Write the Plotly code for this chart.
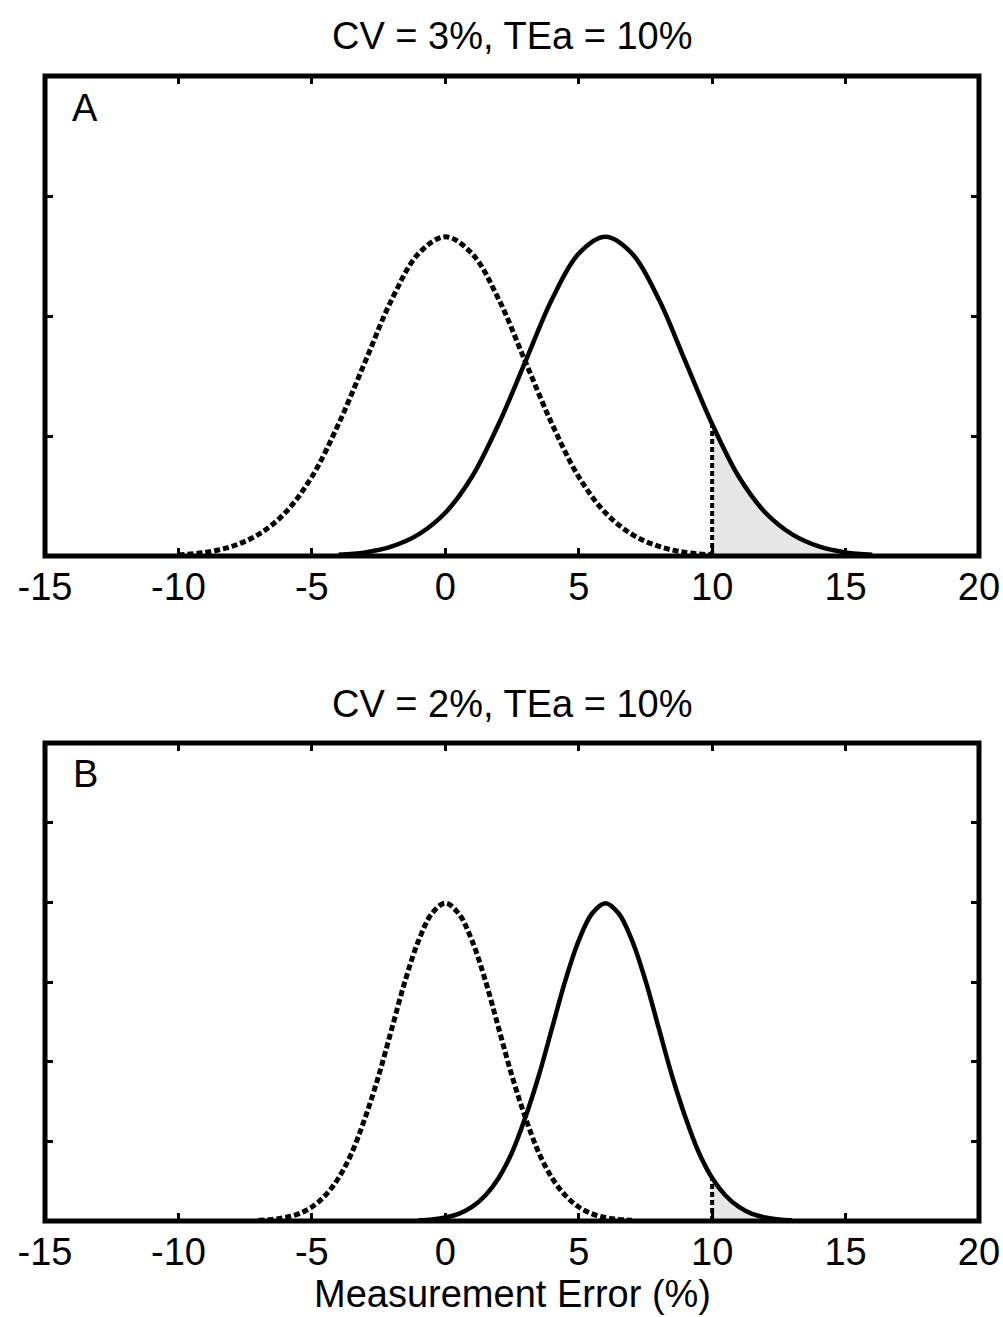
import plotly.graph_objects as go

# ---------------- data ----------------
x_ticks = [-15, -10, -5, 0, 5, 10, 15, 20]
x_tick_labels = ["-15", "-10", "-5", "0", "5", "10", "15", "20"]

# Panel A: CV = 3 %
xa_dashed = [-10, -9, -8, -7, -6, -5, -4, -3, -2, -1, 0, 1, 2, 3, 4, 5, 6, 7, 8, 9, 10]
ya_dashed = [0.0005, 0.0015, 0.004, 0.009, 0.018, 0.033, 0.055, 0.081, 0.107, 0.126, 0.133,
             0.126, 0.107, 0.081, 0.055, 0.033, 0.018, 0.009, 0.004, 0.0015, 0.0005]
xa_solid = [-4, -3, -2, -1, 0, 1, 2, 3, 4, 5, 6, 7, 8, 9, 10, 11, 12, 13, 14, 15, 16]
ya_solid = [0.0005, 0.0015, 0.004, 0.009, 0.018, 0.033, 0.055, 0.081, 0.107, 0.126, 0.133,
            0.126, 0.107, 0.081, 0.055, 0.033, 0.018, 0.009, 0.004, 0.0015, 0.0005]
xa_shade = [10, 11, 12, 13, 14, 15, 16]
ya_shade = [0.055, 0.033, 0.018, 0.009, 0.004, 0.0015, 0.0005]
xa_tea = [10, 10]
ya_tea = [0, 0.055]

# Panel B: CV = 2 %
xb_dashed = [-7, -6.5, -6, -5.5, -5, -4.5, -4, -3.5, -3, -2.5, -2, -1.5, -1, -0.5, 0,
             0.5, 1, 1.5, 2, 2.5, 3, 3.5, 4, 4.5, 5, 5.5, 6, 6.5, 7]
yb_dashed = [0.0004, 0.001, 0.0022, 0.0045, 0.0088, 0.016, 0.027, 0.043, 0.065, 0.091,
             0.121, 0.151, 0.176, 0.193, 0.1995, 0.193, 0.176, 0.151, 0.121, 0.091, 0.065,
             0.043, 0.027, 0.016, 0.0088, 0.0045, 0.0022, 0.001, 0.0004]
xb_solid = [-1, -0.5, 0, 0.5, 1, 1.5, 2, 2.5, 3, 3.5, 4, 4.5, 5, 5.5, 6,
            6.5, 7, 7.5, 8, 8.5, 9, 9.5, 10, 10.5, 11, 11.5, 12, 12.5, 13]
yb_solid = [0.0004, 0.001, 0.0022, 0.0045, 0.0088, 0.016, 0.027, 0.043, 0.065, 0.091,
            0.121, 0.151, 0.176, 0.193, 0.1995, 0.193, 0.176, 0.151, 0.121, 0.091, 0.065,
            0.043, 0.027, 0.016, 0.0088, 0.0045, 0.0022, 0.001, 0.0004]
xb_shade = [10, 10.5, 11, 11.5, 12, 12.5, 13]
yb_shade = [0.027, 0.016, 0.0088, 0.0045, 0.0022, 0.001, 0.0004]
xb_tea = [10, 10]
yb_tea = [0, 0.027]

titles = ["CV = 3%, TEa = 10%", "CV = 2%, TEa = 10%"]
panel_letters = ["A", "B"]
x_label = "Measurement Error (%)"

# ---------------- figure ----------------
W, H = 1003, 1317
FONT = "Arial, 'Liberation Sans', sans-serif"
BLACK = "#000000"
DASH = "6px,3px"

fig = go.Figure()

def add_panel(xax, yax, xd, yd, xs, ys, xsh, ysh, xt, yt):
    fig.add_trace(go.Scatter(x=xsh, y=ysh, xaxis=xax, yaxis=yax, mode="lines",
                             line=dict(width=0, shape="spline"), fill="tozeroy",
                             fillcolor="#e6e6e6", hoverinfo="skip", showlegend=False))
    fig.add_trace(go.Scatter(x=xd, y=yd, xaxis=xax, yaxis=yax, mode="lines",
                             line=dict(color=BLACK, width=5, dash=DASH, shape="spline"),
                             showlegend=False))
    fig.add_trace(go.Scatter(x=xs, y=ys, xaxis=xax, yaxis=yax, mode="lines",
                             line=dict(color=BLACK, width=4.5, shape="spline"),
                             showlegend=False))
    fig.add_trace(go.Scatter(x=xt, y=yt, xaxis=xax, yaxis=yax, mode="lines",
                             line=dict(color=BLACK, width=4, dash="5px,3px"),
                             showlegend=False))

add_panel("x", "y", xa_dashed, ya_dashed, xa_solid, ya_solid, xa_shade, ya_shade, xa_tea, ya_tea)
add_panel("x2", "y2", xb_dashed, yb_dashed, xb_solid, yb_solid, xb_shade, yb_shade, xb_tea, yb_tea)

def py(pix):
    return 1 - pix / H

xaxis_common = dict(range=[-15, 20], tickmode="array", tickvals=x_ticks, ticktext=x_tick_labels,
                    ticks="inside", ticklen=8, tickwidth=3, tickcolor=BLACK, mirror="allticks",
                    showline=False, showgrid=False, zeroline=False,
                    tickfont=dict(family=FONT, size=38, color=BLACK), ticklabelstandoff=5)
yaxis_common = dict(ticks="inside", ticklen=8, tickwidth=3, tickcolor=BLACK, mirror="allticks",
                    showline=False, showgrid=False, zeroline=False, showticklabels=False)

fig.update_layout(
    width=W, height=H,
    margin=dict(l=45, r=24, t=0, b=0),
    paper_bgcolor="white", plot_bgcolor="white",
    showlegend=False,
    xaxis=dict(domain=[0, 1], anchor="y", **xaxis_common),
    yaxis=dict(domain=[py(556), py(76)], anchor="x", range=[0, 0.2], dtick=0.05, **yaxis_common),
    xaxis2=dict(domain=[0, 1], anchor="y2", **xaxis_common),
    yaxis2=dict(domain=[py(1221), py(743)], anchor="x2", range=[0, 0.3], dtick=0.05, **yaxis_common),
)

# frames
for xr, yr in [("x domain", "y domain"), ("x2 domain", "y2 domain")]:
    fig.add_shape(type="rect", xref=xr, yref=yr, x0=0, x1=1, y0=0, y1=1,
                  line=dict(color=BLACK, width=5), layer="above")

# titles
for title, ypix in zip(titles, [36, 704]):
    fig.add_annotation(text=title, xref="paper", yref="paper", x=0.5, y=py(ypix),
                       xanchor="center", yanchor="middle", showarrow=False,
                       font=dict(family=FONT, size=38, color=BLACK))

# panel letters
fig.add_annotation(text=panel_letters[0], xref="x", yref="y", x=-13.5, y=0.1867,
                   xanchor="center", yanchor="middle", showarrow=False,
                   font=dict(family=FONT, size=38, color=BLACK))
fig.add_annotation(text=panel_letters[1], xref="x2", yref="y2", x=-13.5, y=0.2805,
                   xanchor="center", yanchor="middle", showarrow=False,
                   font=dict(family=FONT, size=38, color=BLACK))

# x-axis label
fig.add_annotation(text=x_label, xref="paper", yref="paper", x=0.5, y=0.0,
                   xanchor="center", yanchor="bottom", showarrow=False,
                   font=dict(family=FONT, size=38, color=BLACK))

fig.write_html("out.html")
